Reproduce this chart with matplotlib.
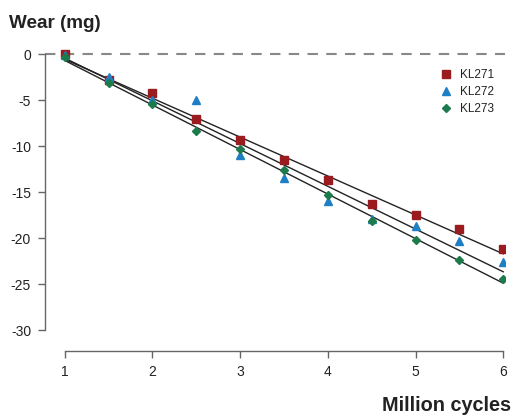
import numpy as np
import matplotlib.pyplot as plt

# data
cycles = [1, 1.5, 2, 2.5, 3, 3.5, 4, 4.5, 5, 5.5, 6]
kl271 = [0.0, -2.8, -4.2, -7.0, -9.3, -11.5, -13.6, -16.2, -17.4, -19.0, -21.1]
kl272 = [-0.1, -2.5, -5.0, -4.9, -10.9, -13.4, -15.9, -17.9, -18.6, -20.3, -22.6]
kl273 = [-0.3, -3.1, -5.4, -8.3, -10.3, -12.6, -15.3, -18.1, -20.2, -22.3, -24.4]
names = ['KL271', 'KL272', 'KL273']
colors = ['#9b1c1f', '#1f7fc4', '#1d7a4b']
markers = ['s', '^', 'D']
msizes = [6, 6, 4.5]
xticks = [1, 2, 3, 4, 5, 6]
yticks = [0, -5, -10, -15, -20, -25, -30]

plt.rcParams['font.family'] = ['Liberation Sans', 'DejaVu Sans']

fig = plt.figure(figsize=(5.12, 4.15), dpi=100)
ax = fig.add_axes([45/512, 1 - 350.7/415, 460/512, (350.7 - 45)/415])

ax.axhline(0, color='#888888', lw=1.5, ls=(0, (5, 4)), zorder=1)

x = np.array(cycles)
for ys, name, c, m, ms in zip([kl271, kl272, kl273], names, colors, markers, msizes):
    k, b = np.polyfit(x, ys, 1)
    ax.plot([1, 6], [k*1 + b, k*6 + b], color='#222222', lw=1.0, zorder=2)
    ax.plot(x, ys, ls='none', marker=m, ms=ms, color=c, mec=c, label=name, zorder=3)

ax.set_xlim(0.775, 6.02)
ax.set_ylim(-32.2, 1.03)

for s in ['top', 'right']:
    ax.spines[s].set_visible(False)
ax.spines['left'].set_bounds(-30, 0)
ax.spines['bottom'].set_bounds(1, 6)
for s in ['left', 'bottom']:
    ax.spines[s].set_color('#666666')
    ax.spines[s].set_linewidth(1.0)

ax.set_xticks(xticks)
ax.set_yticks(yticks)
ax.set_yticklabels([str(v) for v in yticks])
ax.tick_params(colors='#666666', labelcolor='#222222', length=5, width=1.0, labelsize=10, pad=5)

leg = ax.legend(loc='upper right', bbox_to_anchor=(1.0, 0.955), frameon=False, fontsize=8.5,
                handletextpad=0.6, labelspacing=0.4, handlelength=1.2)
for t in leg.get_texts():
    t.set_color('#222222')

fig.text(9/512, 1 - 28/415, 'Wear (mg)', fontsize=13.6, fontweight='bold', color='#222222',
         ha='left', va='baseline')
fig.text(511/512, 1 - 410.5/415, 'Million cycles', fontsize=14.3, fontweight='bold', color='#222222',
         ha='right', va='baseline')

fig.savefig('out.png', dpi=100)
